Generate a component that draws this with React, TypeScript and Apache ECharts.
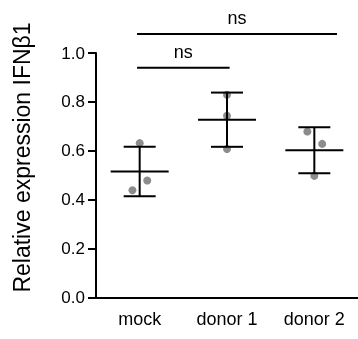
import React, { useEffect, useRef } from "react";
import * as echarts from "echarts";

const categories = ["mock", "donor 1", "donor 2"];
const yTicks = [0, 0.2, 0.4, 0.6, 0.8, 1.0];
// individual replicate values per group
const mockValues = [0.631, 0.438, 0.478];
const donor1Values = [0.829, 0.743, 0.607];
const donor2Values = [0.679, 0.628, 0.497];
// horizontal jitter of the replicates (in category units)
const mockJitter = [0, -0.083, 0.087];
const donor1Jitter = [0, 0, 0];
const donor2Jitter = [-0.08, 0.09, 0];
// mean and SD per group
const means = [0.515, 0.727, 0.602];
const sds = [0.101, 0.111, 0.094];
// significance brackets: [xStart, xEnd, y, label]
const brackets: [number, number, number, string][] = [
  [-0.03, 1.03, 0.94, "ns"],
  [-0.03, 2.26, 1.078, "ns"],
];

const FONT = "'Liberation Sans', Arial, Helvetica, sans-serif";

export default function App() {
  const ref = useRef<HTMLDivElement>(null);
  useEffect(() => {
    if (!ref.current) return;
    const chart = echarts.init(ref.current, undefined, { renderer: "svg" });
    const groups = [
      [mockValues, mockJitter],
      [donor1Values, donor1Jitter],
      [donor2Values, donor2Jitter],
    ];
    const points: number[][] = [];
    groups.forEach(([vals, jit], gi) => {
      vals.forEach((v, i) => points.push([gi + jit[i], v]));
    });
    chart.setOption({
      animation: false,
      grid: { left: 96, top: 53, bottom: 41.7, width: 264, containLabel: false },
      xAxis: [
        {
          type: "category",
          data: categories,
          boundaryGap: true,
          axisLine: { onZero: false, lineStyle: { color: "#000", width: 2 } },
          axisTick: { alignWithLabel: true, length: 8, lineStyle: { color: "#000", width: 2 } },
          axisLabel: { color: "#000", fontSize: 18, fontFamily: FONT, margin: 13 },
          splitLine: { show: false },
        },
        {
          type: "value",
          min: -0.5,
          max: 2.5,
          show: false,
          axisLine: { onZero: false },
          splitLine: { show: false },
        },
      ],
      yAxis: {
        type: "value",
        min: 0,
        max: 1,
        interval: 0.2,
        axisLine: { show: true, onZero: false, lineStyle: { color: "#000", width: 2 } },
        axisTick: { show: true, length: 8, lineStyle: { color: "#000", width: 2 } },
        axisLabel: {
          color: "#000",
          fontSize: 17,
          fontFamily: FONT,
          margin: 11,
          formatter: (v: number) => (yTicks.includes(v) ? v.toFixed(1) : ""),
        },
        splitLine: { show: false },
      },
      graphic: [
        {
          type: "text",
          x: 22,
          y: 157.5,
          rotation: Math.PI / 2,
          style: {
            text: "Relative expression IFNβ1",
            fill: "#000",
            font: `23px ${FONT}`,
            align: "center",
            verticalAlign: "middle",
          },
        },
      ],
      series: [
        {
          type: "scatter",
          xAxisIndex: 1,
          data: points,
          symbolSize: 8,
          itemStyle: { color: "#8c8c8c", opacity: 1 },
          z: 2,
        },
        {
          type: "custom",
          xAxisIndex: 1,
          z: 3,
          data: means.map((m, i) => [i, m, sds[i]]),
          renderItem: (params: any, api: any) => {
            const x = api.value(0);
            const m = api.value(1);
            const s = api.value(2);
            const pm = api.coord([x, m]);
            const pu = api.coord([x, m + s]);
            const pl = api.coord([x, m - s]);
            const st = { stroke: "#000", lineWidth: 2 };
            return {
              type: "group",
              children: [
                { type: "line", shape: { x1: pm[0] - 29, y1: pm[1], x2: pm[0] + 29, y2: pm[1] }, style: st },
                { type: "line", shape: { x1: pu[0] - 16, y1: pu[1], x2: pu[0] + 16, y2: pu[1] }, style: st },
                { type: "line", shape: { x1: pl[0] - 16, y1: pl[1], x2: pl[0] + 16, y2: pl[1] }, style: st },
                { type: "line", shape: { x1: pu[0], y1: pu[1], x2: pl[0], y2: pl[1] }, style: st },
              ],
            };
          },
        },
        {
          type: "custom",
          xAxisIndex: 1,
          z: 3,
          clip: false,
          data: brackets,
          renderItem: (params: any, api: any) => {
            const b = brackets[params.dataIndex];
            const p1 = api.coord([b[0], b[2]]);
            const p2 = api.coord([b[1], b[2]]);
            return {
              type: "group",
              children: [
                { type: "line", shape: { x1: p1[0], y1: p1[1], x2: p2[0], y2: p2[1] }, style: { stroke: "#000", lineWidth: 2 } },
                {
                  type: "text",
                  x: (p1[0] + p2[0]) / 2,
                  y: p1[1] - 7,
                  style: { text: b[3], fill: "#000", font: `18px ${FONT}`, align: "center", verticalAlign: "bottom" },
                },
              ],
            };
          },
        },
      ],
    });
    return () => chart.dispose();
  }, []);
  return <div ref={ref} style={{ position: "fixed", left: 0, top: 0, width: 358, height: 339 }} />;
}
